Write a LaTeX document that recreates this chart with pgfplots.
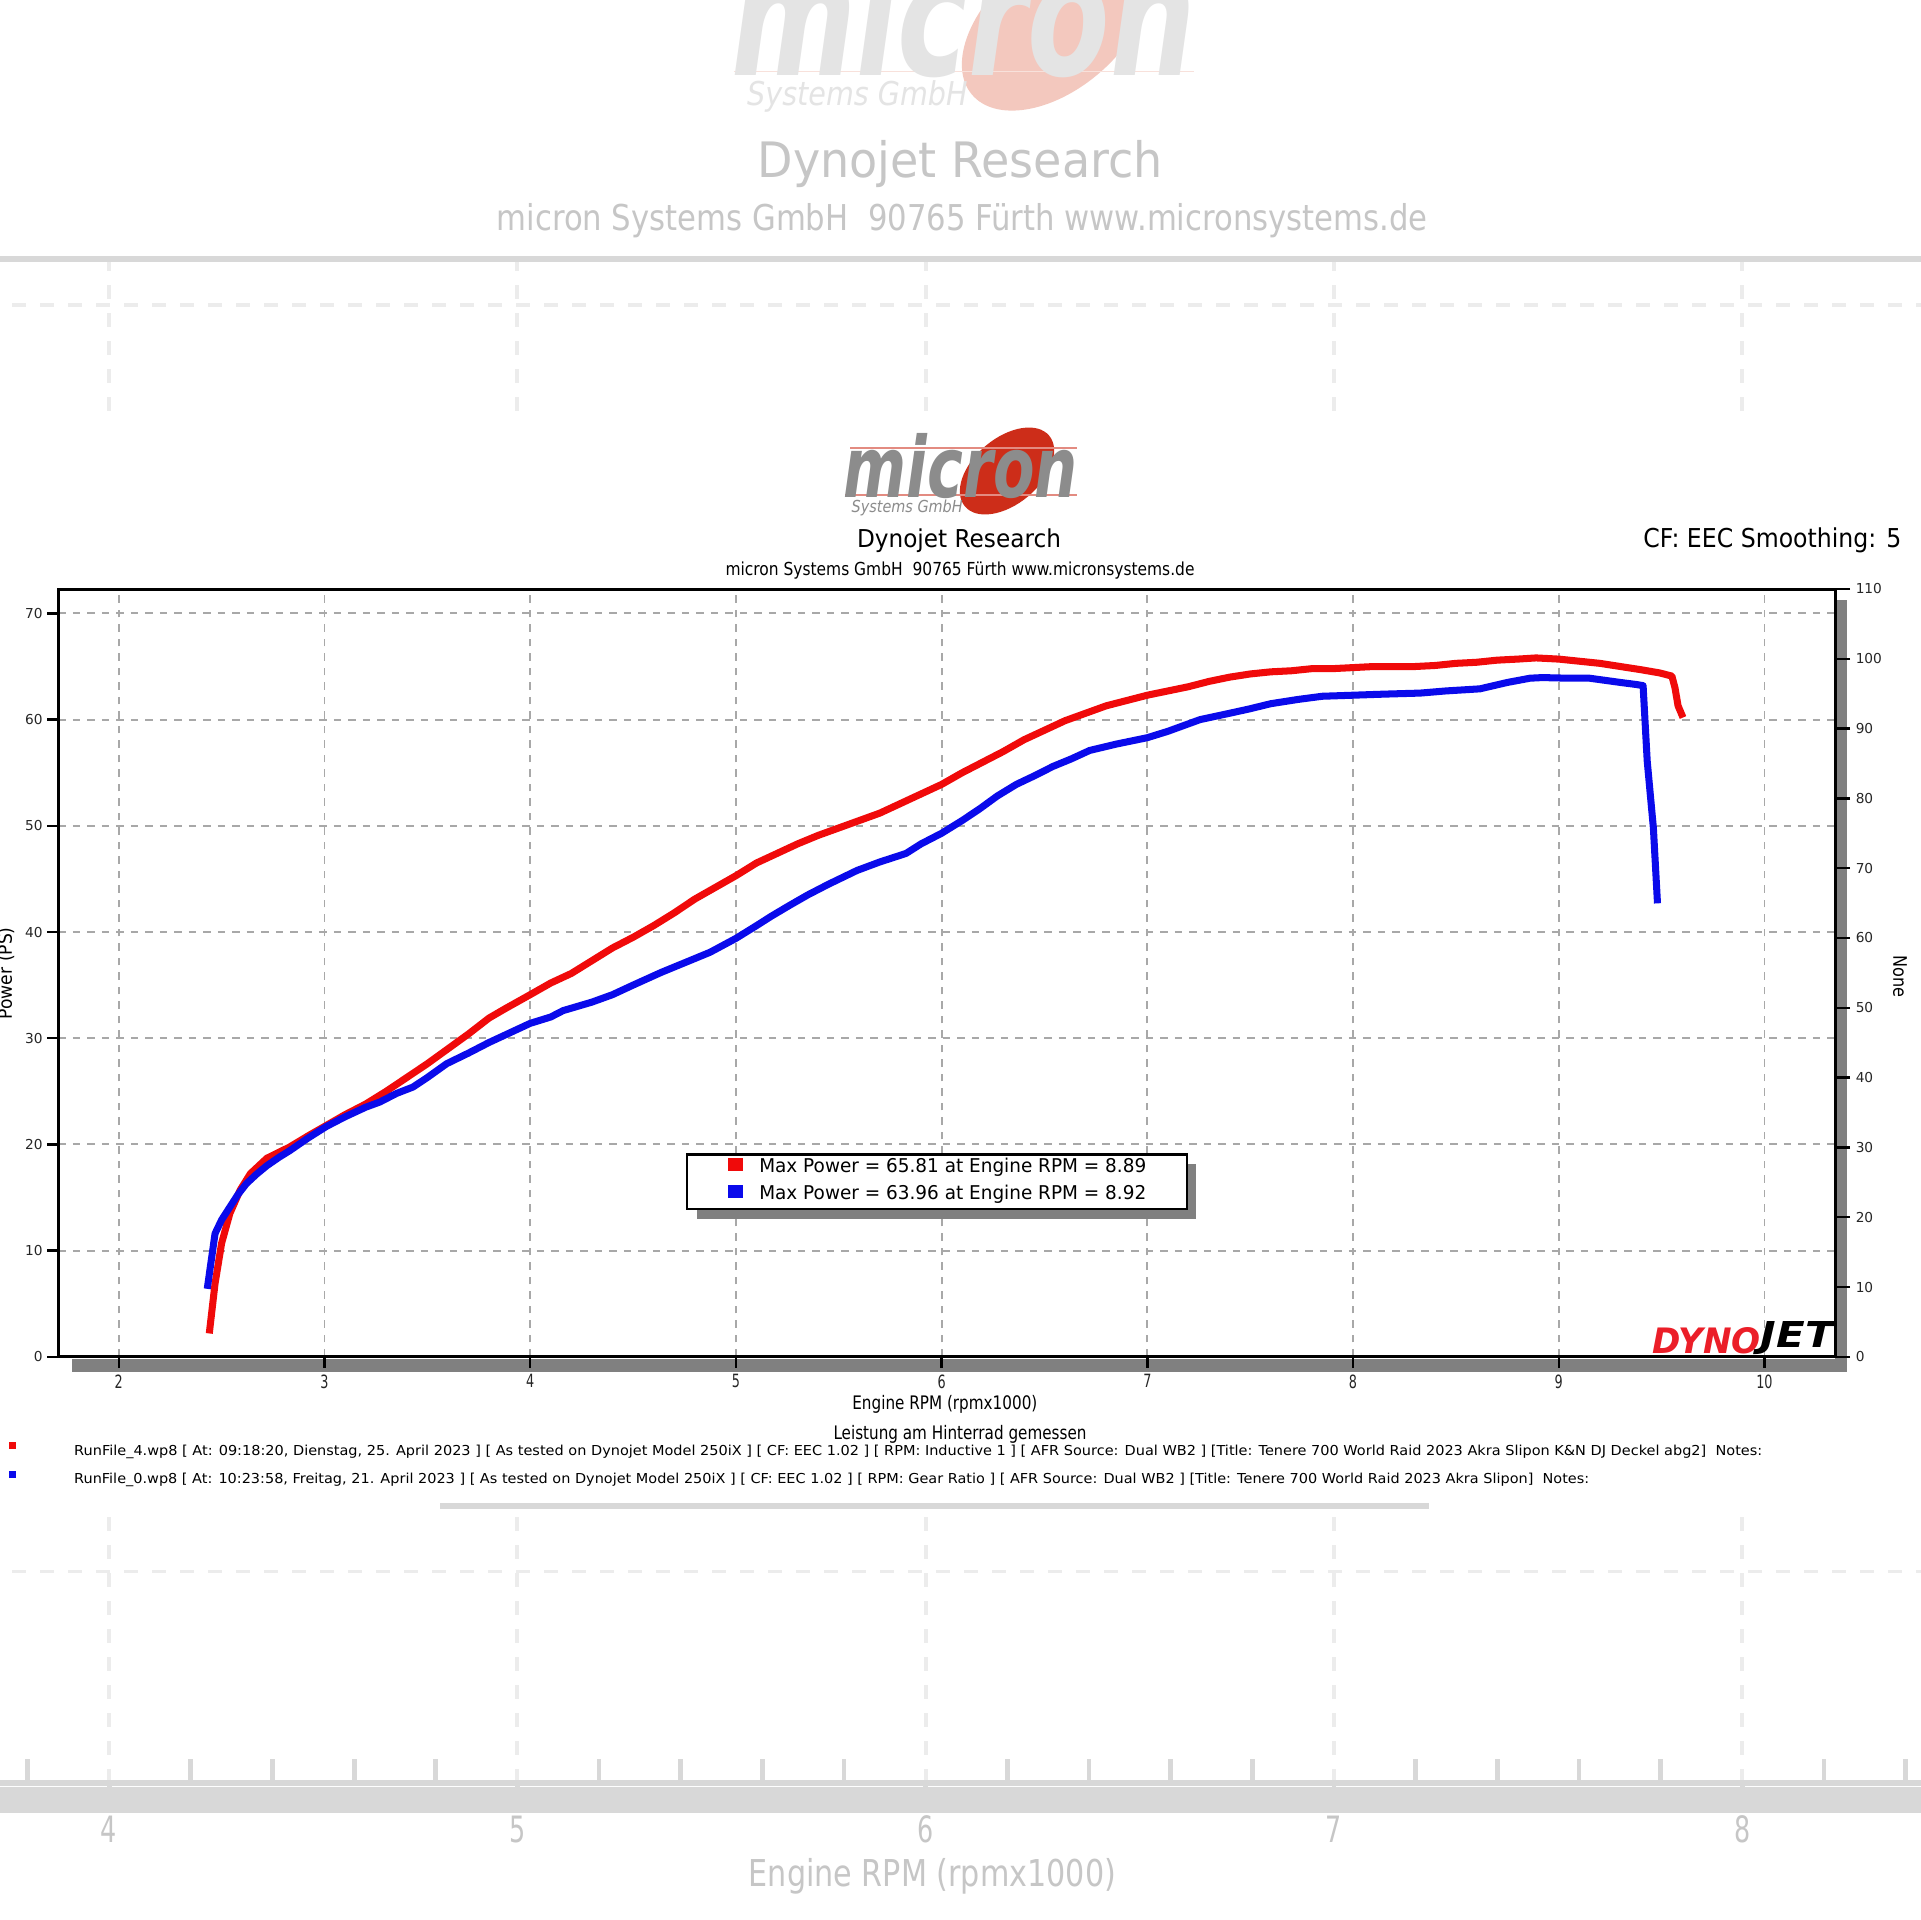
\documentclass[border=0pt]{standalone}
\usepackage{fontspec}
\setmainfont{DejaVu Sans}
\newfontfamily\cond[FakeStretch=0.7]{DejaVu Sans}
\usepackage{pgfplots}
\pgfplotsset{compat=1.18}
\definecolor{logogray}{RGB}{140,140,140}
\definecolor{logored}{RGB}{205,45,25}
\definecolor{fgray}{RGB}{198,198,198}
\definecolor{fline}{RGB}{216,216,216}
\definecolor{fgrid}{RGB}{236,236,236}
\definecolor{flogored}{RGB}{243,200,190}
\definecolor{flogogray}{RGB}{228,228,228}
\definecolor{gridgray}{RGB}{168,168,168}
\definecolor{shadowgray}{RGB}{128,128,128}
\definecolor{dynored}{RGB}{235,30,40}
\definecolor{runred}{RGB}{240,10,10}
\definecolor{runblue}{RGB}{10,10,235}

\newcommand{\header}[4]{%
  \begin{scope}[shift={(8.43,-4.97)}]
    \fill[#2, rotate around={40:(1.64,0.26)}] (1.64,0.26) ellipse [x radius=0.55, y radius=0.33];
    \draw[#2!55!white, line width=0.3pt] (0.07,0.49) -- (2.34,0.49);
    \draw[#2!55!white, line width=0.3pt] (0.02,0.02) -- (2.34,0.02);
    \node[anchor=base west, inner sep=0pt, text=#1] at (0,0) {\resizebox{2.34cm}{\height}{\fontsize{24}{24}\selectfont\bfseries\itshape micron}};
    \node[anchor=base west, inner sep=0pt, text=#1] at (0.08,-0.15) {\resizebox{1.11cm}{\height}{\fontsize{4.7}{5}\selectfont\itshape Systems GmbH}};
  \end{scope}
  \node[anchor=base, inner sep=0pt, text=#3] at (9.59,-5.48) {\resizebox{2.04cm}{\height}{\fontsize{7}{8}\selectfont Dynojet Research}};
  \node[anchor=base, inner sep=0pt, text=#4] at (9.60,-5.75) {\resizebox{4.69cm}{\height}{\fontsize{5.1}{6}\selectfont micron Systems GmbH\ \ 90765 Fürth www.micronsystems.de}};
}

\pgfplotsset{myaxis/.style={at={(0.583cm,-13.568cm)}, anchor=south west,
  scale only axis, width=17.767cm, height=7.678cm, xmin=1.706, xmax=10.343,
  /pgf/number format/assume math mode=true}}

\begin{document}
\begin{tikzpicture}
\useasboundingbox (0,0) rectangle (19.2,-19.2);
\fill[white] (0,0) rectangle (19.2,-19.2);

% faded enlarged copy in the background
\begin{scope}[shift={(-9.434,9.106)}, scale=1.985, transform shape]
  \header{flogogray}{flogored}{fgray}{fgray}
  \foreach \k in {2,...,10} {
    \pgfmathsetmacro\u{1.188+(\k-2)*2.057}
    \draw[fgrid, line width=1.1pt, dash pattern=on 1.4mm off 1.4mm] (\u,-13.568) -- (\u,-5.89);
    \draw[fline, line width=1.4pt] (\u,-13.568) -- (\u,-13.688);
  }
  \foreach \k in {4,...,8} {
    \pgfmathsetmacro\u{1.188+(\k-2)*2.057}
    \node[anchor=base, inner sep=0pt, text=fgray, font=\cond\fontsize{5.2}{6}\selectfont] at (\u,-13.87) {\k};
  }
  \foreach \k in {10,20,...,70} {
    \pgfmathsetmacro\v{-13.568+\k*0.10636}
    \draw[fgrid, line width=1.1pt, dash pattern=on 1.4mm off 1.4mm] (0.583,\v) -- (18.35,\v);
  }
  \foreach \m in {1.8,2.2,2.4,2.6,2.8,3.2,3.4,3.6,3.8,4.2,4.4,4.6,4.8,5.2,5.4,5.6,5.8,6.2,6.4,6.6,6.8,7.2,7.4,7.6,7.8,8.2,8.4,8.6,8.8,9.2,9.4,9.6,9.8,10.2} {
    \pgfmathsetmacro\u{1.188+(\m-2)*2.057}
    \draw[fline, line width=1.4pt] (\u,-13.568) -- (\u,-13.448);
  }
  \fill[fline] (0.72,-13.59) rectangle (18.47,-13.72);
  \draw[fline, line width=1.7pt] (0.583,-13.568) -- (18.35,-13.568);
  \draw[fline, line width=1.7pt] (0.583,-5.89) -- (18.35,-5.89);
  \fill[fline] (6.97,-11.63) rectangle (11.95,-12.19);
  \node[anchor=base, inner sep=0pt, text=fgray] at (9.45,-14.09) {\resizebox{1.85cm}{\height}{\cond\fontsize{5.3}{6}\selectfont Engine RPM (rpmx1000)}};
\end{scope}

% the chart itself on white
\fill[white] (-1,-4.20) rectangle (20.2,-15.03);
\fill[shadowgray] (0.72,-13.59) rectangle (18.47,-13.72);
\fill[shadowgray] (18.35,-6.00) rectangle (18.47,-13.72);

\begin{axis}[myaxis,
  ymin=0, ymax=72.3,
  xtick={2,...,10}, ytick={0,10,...,70},
  xtick pos=bottom, ytick pos=left,
  tick align=outside, major tick length=0.11cm,
  axis line style={line width=0.85pt, black},
  tick style={line width=0.7pt, black},
  grid=major,
  major grid style={gridgray, line width=0.55pt, dash pattern=on 0.75mm off 0.7mm},
  xticklabel style={font=\cond\fontsize{5.2}{6}\selectfont, inner sep=0pt, anchor=north, yshift=-0.06cm, text=black!85},
  yticklabel style={font=\fontsize{3.9}{4}\selectfont, inner sep=0pt, anchor=east, xshift=-0.04cm, text=black!85},
  xlabel={\resizebox{1.85cm}{\height}{Engine RPM (rpmx1000)}},
  xlabel style={at={(axis description cs:0.499,-0.068)}, anchor=base, inner sep=0pt, font=\cond\fontsize{5.3}{6}\selectfont},
  ylabel={\resizebox{0.92cm}{\height}{Power (PS)}},
  ylabel style={at={(axis description cs:-0.0294,0.4995)}, anchor=center, inner sep=0pt, font=\cond\fontsize{5.3}{6}\selectfont},
  legend style={at={(axis description cs:0.3533,0.2654)}, anchor=north west,
    draw=black, line width=0.7pt, fill=white,
    inner xsep=0.405cm, inner ysep=0.04cm, row sep=0.07cm,
    font=\fontsize{5.4}{6}\selectfont, nodes={inner sep=0pt}},
  legend cell align=left,
  legend image code/.code={\fill[#1, draw=none] (0cm,-0.03cm) rectangle (0.15cm,0.10cm); \path (0.28cm,0cm);},
]
\fill[shadowgray] (axis description cs:0.3595,0.2510) rectangle (axis description cs:0.6404,0.1794);
\addplot[color=runred, line width=2.0pt, line join=round] coordinates {
(2.44,2.2) (2.468,6.9) (2.50,10.7) (2.54,13.5) (2.59,15.7) (2.64,17.25) (2.72,18.7)
(2.83,19.75) (2.92,20.8) (3.01,21.8) (3.10,22.8) (3.20,23.8) (3.30,25.0) (3.40,26.3)
(3.50,27.6) (3.60,29.0) (3.70,30.4) (3.80,31.9) (3.88,32.8) (4.00,34.1) (4.10,35.2)
(4.20,36.1) (4.30,37.3) (4.40,38.5) (4.50,39.5) (4.60,40.6) (4.70,41.8) (4.80,43.1)
(4.90,44.2) (5.00,45.3) (5.10,46.5) (5.20,47.4) (5.30,48.3) (5.40,49.1) (5.50,49.8)
(5.60,50.5) (5.70,51.2) (5.80,52.1) (5.90,53.0) (6.00,53.9) (6.10,55.0) (6.20,56.0)
(6.30,57.0) (6.40,58.1) (6.50,59.0) (6.60,59.9) (6.70,60.6) (6.80,61.3) (6.90,61.8)
(7.00,62.3) (7.10,62.7) (7.20,63.1) (7.30,63.6) (7.40,64.0) (7.50,64.3) (7.60,64.5)
(7.70,64.6) (7.80,64.8) (7.90,64.8) (8.00,64.9) (8.10,65.0) (8.20,65.0) (8.30,65.0)
(8.40,65.1) (8.50,65.3) (8.60,65.4) (8.70,65.6) (8.80,65.7) (8.89,65.81) (9.00,65.7)
(9.10,65.5) (9.20,65.3) (9.30,65.0) (9.40,64.7) (9.49,64.4) (9.55,64.1) (9.565,63.0)
(9.58,61.3) (9.604,60.2)
};
\addlegendentry{\resizebox{3.87cm}{\height}{Max Power = 65.81 at Engine RPM = 8.89}}
\addplot[color=runblue, line width=2.0pt, line join=round] coordinates {
(2.43,6.4) (2.468,11.6) (2.50,12.9) (2.54,14.1) (2.58,15.3) (2.62,16.3) (2.67,17.2)
(2.72,18.0) (2.78,18.8) (2.83,19.4) (2.92,20.6) (3.01,21.7) (3.10,22.6) (3.20,23.5)
(3.27,24.0) (3.35,24.8) (3.43,25.4) (3.50,26.3) (3.594,27.6) (3.70,28.6) (3.80,29.6)
(3.90,30.5) (4.00,31.4) (4.10,32.0) (4.16,32.6) (4.30,33.4) (4.40,34.1) (4.50,35.0)
(4.637,36.2) (4.75,37.1) (4.875,38.1) (5.00,39.4) (5.10,40.6) (5.173,41.5) (5.26,42.5)
(5.35,43.5) (5.45,44.5) (5.589,45.8) (5.70,46.6) (5.827,47.4) (5.90,48.3) (6.00,49.3)
(6.10,50.5) (6.185,51.6) (6.27,52.8) (6.363,53.9) (6.45,54.7) (6.542,55.6) (6.63,56.3)
(6.72,57.1) (6.85,57.7) (7.00,58.3) (7.10,58.9) (7.256,60.0) (7.40,60.6) (7.494,61.0)
(7.60,61.5) (7.732,61.9) (7.85,62.2) (8.00,62.3) (8.15,62.4) (8.327,62.5) (8.45,62.7)
(8.617,62.9) (8.75,63.5) (8.86,63.9) (8.92,63.96) (9.05,63.9) (9.15,63.9) (9.30,63.5)
(9.38,63.3) (9.41,63.2) (9.43,56.1) (9.46,49.8) (9.48,42.7)
};
\addlegendentry{\resizebox{3.87cm}{\height}{Max Power = 63.96 at Engine RPM = 8.92}}
\end{axis}

% minor ticks (inside) for bottom and left
\begin{axis}[myaxis, ymin=0, ymax=72.3,
  axis line style={draw=none}, xtick=\empty, ytick=\empty,
  minor xtick={1.8,2.2,2.4,2.6,2.8,3.2,3.4,3.6,3.8,4.2,4.4,4.6,4.8,5.2,5.4,5.6,5.8,6.2,6.4,6.6,6.8,7.2,7.4,7.6,7.8,8.2,8.4,8.6,8.8,9.2,9.4,9.6,9.8,10.2},
  minor ytick={5,15,...,65},
  xtick pos=bottom, ytick pos=left, tick align=inside,
  minor tick length=0.12cm, minor tick style={line width=0.7pt, black}]
\end{axis}

% right axis (0-110)
\begin{axis}[myaxis, ymin=0, ymax=110,
  axis y line*=right, axis x line=none,
  ytick={0,10,...,110}, tick align=outside, major tick length=0.15cm,
  tick style={line width=0.7pt, black},
  axis line style={line width=0.85pt, black},
  yticklabel style={font=\fontsize{3.9}{4}\selectfont, inner sep=0pt, anchor=west, xshift=0.05cm, text=black!85},
  ylabel={\resizebox{0.42cm}{\height}{None}},
  ylabel style={at={(axis description cs:1.0366,0.495)}, anchor=center, rotate=180, inner sep=0pt, font=\cond\fontsize{5.3}{6}\selectfont}]
\end{axis}
\begin{axis}[myaxis, ymin=0, ymax=110,
  axis y line*=right, axis x line=none, axis line style={draw=none},
  ytick=\empty, minor ytick={2,4,...,108}, tick align=inside,
  minor tick length=0.12cm, minor tick style={line width=0.7pt, black}]
\end{axis}

% header
\header{logogray}{logored}{black}{black}
\node[anchor=base east, inner sep=0pt] at (19.02,-5.47) {\resizebox{2.58cm}{\height}{\fontsize{7.4}{8}\selectfont CF: EEC Smoothing: 5}};

% Dynojet logo
\node[anchor=south west, inner sep=0pt, text=dynored] at (16.52,-13.55) {\resizebox{1.08cm}{0.26cm}{\bfseries\itshape DYNO}};
\node[anchor=south west, inner sep=0pt, text=black] at (17.60,-13.55) {\resizebox{0.73cm}{0.26cm}{\bfseries\itshape JET}};

% footer
\node[anchor=base, inner sep=0pt] at (9.60,-14.39) {\resizebox{2.53cm}{\height}{\cond\fontsize{5.3}{6}\selectfont Leistung am Hinterrad gemessen}};
\fill[runred] (0.09,-14.42) rectangle (0.16,-14.49);
\fill[runblue] (0.09,-14.71) rectangle (0.16,-14.78);
\node[anchor=base west, inner sep=0pt] at (0.735,-14.55) {\resizebox{16.88cm}{\height}{\fontsize{3.9}{4}\selectfont RunFile\_4.wp8 [ At: 09:18:20, Dienstag, 25. April 2023 ] [ As tested on Dynojet Model 250iX ] [ CF: EEC 1.02 ] [ RPM: Inductive 1 ] [ AFR Source: Dual WB2 ] [Title: Tenere 700 World Raid 2023 Akra Slipon K\&N DJ Deckel abg2]\ \ Notes:}};
\node[anchor=base west, inner sep=0pt] at (0.735,-14.83) {\resizebox{15.15cm}{\height}{\fontsize{3.9}{4}\selectfont RunFile\_0.wp8 [ At: 10:23:58, Freitag, 21. April 2023 ] [ As tested on Dynojet Model 250iX ] [ CF: EEC 1.02 ] [ RPM: Gear Ratio ] [ AFR Source: Dual WB2 ] [Title: Tenere 700 World Raid 2023 Akra Slipon]\ \ Notes:}};
\end{tikzpicture}
\end{document}
